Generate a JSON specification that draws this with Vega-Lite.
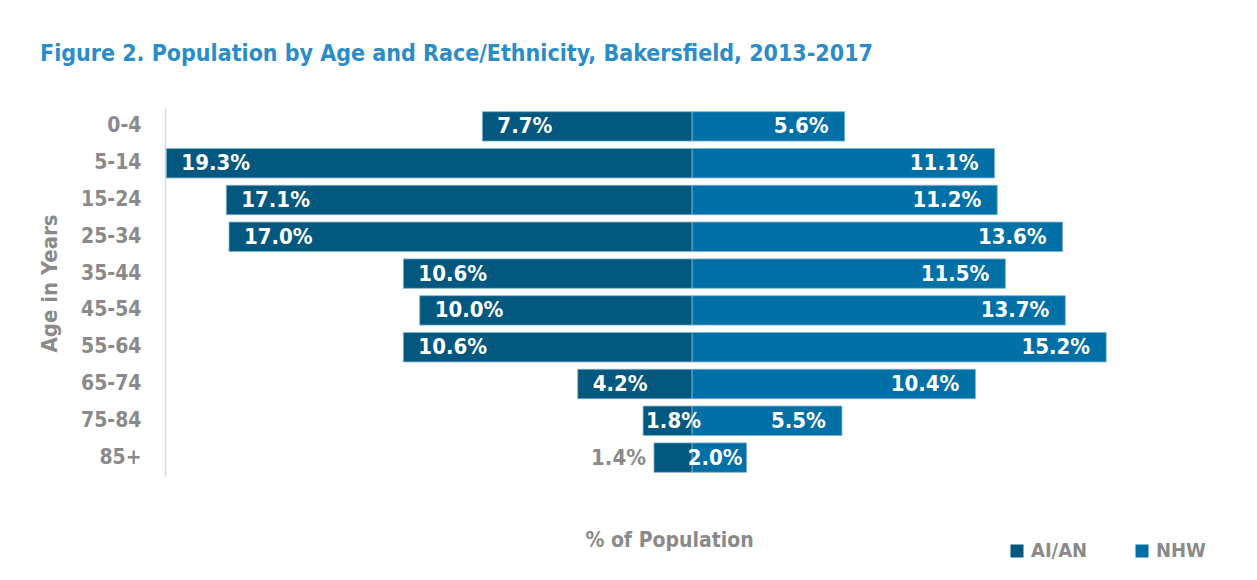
{
  "$schema": "https://vega.github.io/schema/vega-lite/v6.json",
  "autosize": {"type": "none"},
  "width": 963,
  "height": 368,
  "padding": {"left": 165, "top": 108, "right": 129, "bottom": 104},
  "background": "white",
  "title": {
    "text": "Figure 2. Population by Age and Race/Ethnicity, Bakersfield, 2013-2017",
    "anchor": "start",
    "frame": "group",
    "dx": -125,
    "offset": 24,
    "baseline": "alphabetic",
    "fontSize": 23,
    "fontWeight": "bold",
    "color": "#2a8dc9",
    "font": "'DejaVu Sans Condensed', Roboto, sans-serif"
  },
  "config": {
    "font": "'DejaVu Sans Condensed', Roboto, sans-serif",
    "view": {"stroke": null},
    "axis": {"grid": false}
  },
  "data": {
    "values": [
      {"age": "0-4", "group": "AI/AN", "pct": 0.077},
      {"age": "5-14", "group": "AI/AN", "pct": 0.193},
      {"age": "15-24", "group": "AI/AN", "pct": 0.171},
      {"age": "25-34", "group": "AI/AN", "pct": 0.170},
      {"age": "35-44", "group": "AI/AN", "pct": 0.106},
      {"age": "45-54", "group": "AI/AN", "pct": 0.100},
      {"age": "55-64", "group": "AI/AN", "pct": 0.106},
      {"age": "65-74", "group": "AI/AN", "pct": 0.042},
      {"age": "75-84", "group": "AI/AN", "pct": 0.018},
      {"age": "85+", "group": "AI/AN", "pct": 0.014},
      {"age": "0-4", "group": "NHW", "pct": 0.056},
      {"age": "5-14", "group": "NHW", "pct": 0.111},
      {"age": "15-24", "group": "NHW", "pct": 0.112},
      {"age": "25-34", "group": "NHW", "pct": 0.136},
      {"age": "35-44", "group": "NHW", "pct": 0.115},
      {"age": "45-54", "group": "NHW", "pct": 0.137},
      {"age": "55-64", "group": "NHW", "pct": 0.152},
      {"age": "65-74", "group": "NHW", "pct": 0.104},
      {"age": "75-84", "group": "NHW", "pct": 0.055},
      {"age": "85+", "group": "NHW", "pct": 0.020}
    ]
  },
  "encoding": {
    "y": {
      "field": "age",
      "type": "nominal",
      "sort": ["0-4", "5-14", "15-24", "25-34", "35-44", "45-54", "55-64", "65-74", "75-84", "85+"],
      "scale": {"paddingInner": 0.2, "paddingOuter": 0.1},
      "axis": {
        "title": "Age in Years",
        "titleFontSize": 22,
        "titleFontWeight": "bold",
        "titleColor": "#8a8a8a",
        "titleX": -116,
        "titleY": 175,
        "titleAngle": -90,
        "titleAlign": "center",
        "titleBaseline": "middle",
        "labelFontSize": 21,
        "labelFontWeight": "bold",
        "labelColor": "#8a8a8a",
        "labelPadding": 24,
        "ticks": false,
        "domainColor": "#d9d9d9",
        "domainWidth": 1.5
      }
    }
  },
  "layer": [
    {
      "transform": [{"filter": "datum.group == 'AI/AN'"}],
      "mark": {"type": "bar", "stroke": "#7fb3d0", "strokeWidth": 0.8},
      "encoding": {
        "x": {
          "field": "pct",
          "type": "quantitative",
          "scale": {"domain": [-0.16, 0.1935], "reverse": true, "nice": false},
          "axis": {
            "title": "% of Population",
            "labels": false,
            "ticks": false,
            "domain": false,
            "titleFontSize": 21,
            "titleFontWeight": "bold",
            "titleColor": "#8a8a8a",
            "titleX": 504,
            "titleY": 64,
            "titleAlign": "center",
            "titleBaseline": "middle"
          }
        },
        "color": {
          "field": "group",
          "type": "nominal",
          "scale": {"domain": ["AI/AN", "NHW"], "range": ["#02587e", "#0070a6"]},
          "legend": {
            "title": null,
            "orient": "none",
            "direction": "horizontal",
            "legendX": 842,
            "legendY": 433,
            "symbolType": "square",
            "symbolSize": 169,
            "symbolStrokeWidth": 0,
            "labelFontSize": 20,
            "labelFontWeight": "bold",
            "labelColor": "#8a8a8a",
            "labelOffset": 4,
            "columnPadding": 44
          }
        }
      }
    },
    {
      "transform": [{"filter": "datum.group == 'NHW'"}],
      "mark": {"type": "bar", "stroke": "#7fb3d0", "strokeWidth": 0.8},
      "encoding": {
        "x": {
          "field": "pct",
          "type": "quantitative",
          "scale": {"domain": [-0.1935, 0.16], "nice": false},
          "axis": null
        },
        "color": {"field": "group", "type": "nominal"}
      }
    },
    {
      "transform": [{"filter": "datum.group == 'AI/AN' && datum.pct >= 0.04"}],
      "mark": {"type": "text", "align": "left", "dx": 15, "fontSize": 22, "fontWeight": "bold", "color": "white"},
      "encoding": {
        "x": {"field": "pct", "type": "quantitative", "scale": {"domain": [-0.16, 0.1935], "reverse": true, "nice": false}, "axis": null},
        "text": {"field": "pct", "type": "quantitative", "format": ".1%"}
      }
    },
    {
      "transform": [{"filter": "datum.group == 'AI/AN' && datum.pct >= 0.015 && datum.pct < 0.04"}],
      "mark": {"type": "text", "align": "left", "dx": 3, "fontSize": 22, "fontWeight": "bold", "color": "white"},
      "encoding": {
        "x": {"field": "pct", "type": "quantitative", "scale": {"domain": [-0.16, 0.1935], "reverse": true, "nice": false}, "axis": null},
        "text": {"field": "pct", "type": "quantitative", "format": ".1%"}
      }
    },
    {
      "transform": [{"filter": "datum.group == 'AI/AN' && datum.pct < 0.015"}],
      "mark": {"type": "text", "align": "right", "dx": -8, "fontSize": 22, "fontWeight": "bold", "color": "#8a8a8a"},
      "encoding": {
        "x": {"field": "pct", "type": "quantitative", "scale": {"domain": [-0.16, 0.1935], "reverse": true, "nice": false}, "axis": null},
        "text": {"field": "pct", "type": "quantitative", "format": ".1%"}
      }
    },
    {
      "transform": [{"filter": "datum.group == 'NHW' && datum.pct >= 0.03"}],
      "mark": {"type": "text", "align": "right", "dx": -16, "fontSize": 22, "fontWeight": "bold", "color": "white"},
      "encoding": {
        "x": {"field": "pct", "type": "quantitative", "scale": {"domain": [-0.1935, 0.16], "nice": false}, "axis": null},
        "text": {"field": "pct", "type": "quantitative", "format": ".1%"}
      }
    },
    {
      "transform": [{"filter": "datum.group == 'NHW' && datum.pct < 0.03"}],
      "mark": {"type": "text", "align": "right", "dx": -4, "fontSize": 22, "fontWeight": "bold", "color": "white"},
      "encoding": {
        "x": {"field": "pct", "type": "quantitative", "scale": {"domain": [-0.1935, 0.16], "nice": false}, "axis": null},
        "text": {"field": "pct", "type": "quantitative", "format": ".1%"}
      }
    }
  ],
  "resolve": {"scale": {"x": "independent"}, "axis": {"x": "independent"}}
}
